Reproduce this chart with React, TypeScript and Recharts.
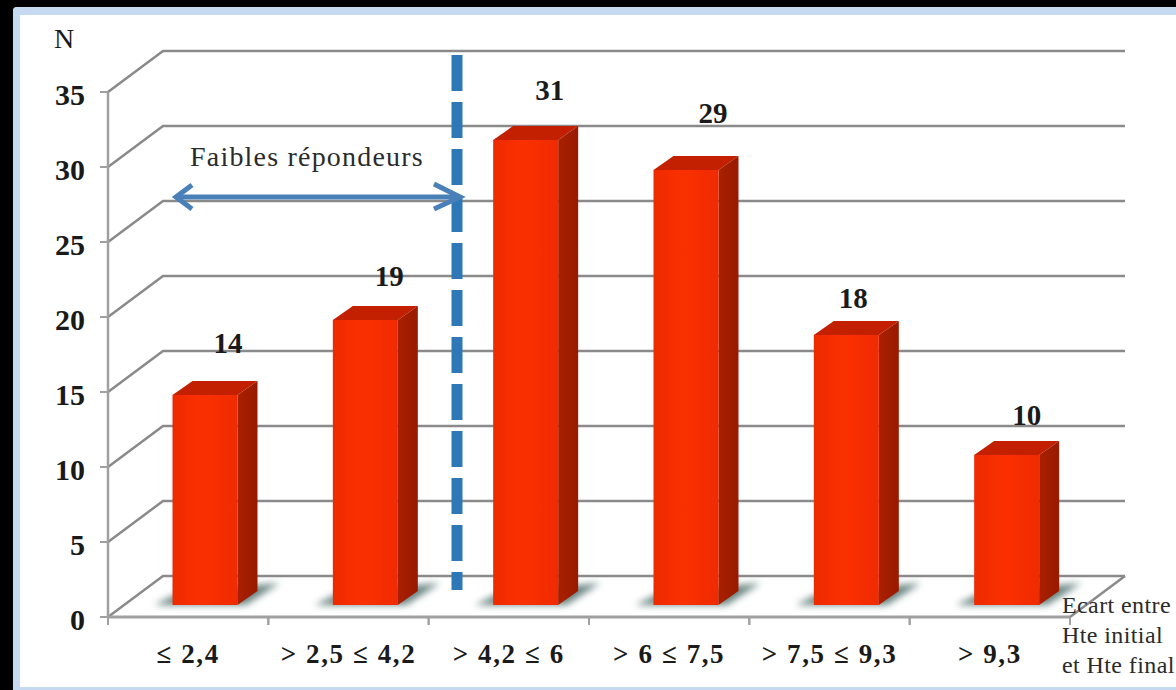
import React from "react";
import { BarChart, Bar, XAxis, YAxis, CartesianGrid, LabelList, Customized } from "recharts";

// Chart values
const categories = ["≤ 2,4", "> 2,5 ≤ 4,2", "> 4,2 ≤ 6", "> 6 ≤ 7,5", "> 7,5 ≤ 9,3", "> 9,3"];
const counts = [14, 19, 31, 29, 18, 10];
const yTicks = [0, 5, 10, 15, 20, 25, 30, 35];
const axisNoteLines = ["Ecart entre", "Hte initial", "et Hte final"];
const annotationText = "Faibles répondeurs";

const rows = categories.map((category, i) => ({ category, count: counts[i] }));

// Nudges that place each count above its bar
const labelNudgeX = [23, 24, 24, 27, 7, 20];
const labelNudgeY = [-38, -30, -36, -43, -23, -26];

// Layout of the faux 3D box
const WIDTH = 1176;
const HEIGHT = 690;
const PLOT_LEFT = 108;
const PLOT_TOP = 92;
const PLOT_BOTTOM = 617;
const PLOT_RIGHT = 1070;
const WALL_DX = 55;
const WALL_DY = -41;
const BAR_SHIFT_X = 16.5;
const BAR_SHIFT_Y = -12;
const SIDE_DX = 20;
const SIDE_DY = -14;
const BAND = (PLOT_RIGHT - PLOT_LEFT) / categories.length;

const SERIF = "'Liberation Serif', 'Times New Roman', serif";
const GRID = "#8a8a8a";
const AXIS = "#a0a0a0";
const INK = "#1a1a1a";

const Bar3D = (props: any) => {
  const { x, y, width, height } = props;
  const left = x + BAR_SHIFT_X;
  const right = left + width;
  const top = y + BAR_SHIFT_Y;
  const base = top + height;
  return (
    <g>
      <polygon
        points={`${left - 18},${base} ${left + 6},${base - 12} ${right + 42},${base - 22} ${right + 8},${base}`}
        fill="#4f6f6c"
        opacity={0.85}
        filter="url(#floorShadow)"
      />
      <polygon
        points={`${left},${top} ${left + SIDE_DX},${top + SIDE_DY} ${right + SIDE_DX},${top + SIDE_DY} ${right},${top}`}
        fill="#c22000"
      />
      <polygon
        points={`${right},${top} ${right + SIDE_DX},${top + SIDE_DY} ${right + SIDE_DX},${base + SIDE_DY} ${right},${base}`}
        fill="url(#barSide)"
      />
      <rect x={left} y={top} width={width} height={height} fill="url(#barFront)" />
    </g>
  );
};

const CountLabel = (props: any) => {
  const { x, y, width, value, index } = props;
  return (
    <text
      x={x + BAR_SHIFT_X + width / 2 + labelNudgeX[index]}
      y={y + BAR_SHIFT_Y + SIDE_DY + labelNudgeY[index] + 10}
      textAnchor="middle"
      fontFamily={SERIF}
      fontWeight="bold"
      fontSize={29}
      fill={INK}
    >
      {value}
    </text>
  );
};

// One shelf of the box: short diagonal on the side wall, long run along the back wall
const ShelfLine = (props: any) => {
  const { x1, y1, x2 } = props;
  const backY = y1 + WALL_DY;
  return (
    <path
      key={y1}
      d={`M${x1},${y1} L${x1 + WALL_DX},${backY} L${x2 + WALL_DX},${backY}`}
      fill="none"
      stroke={GRID}
      strokeWidth={2.5}
    />
  );
};

const CategoryTick = (props: any) => {
  const { x, y, payload } = props;
  return (
    <g>
      <line x1={x - BAND / 2} y1={PLOT_BOTTOM} x2={x - BAND / 2} y2={PLOT_BOTTOM + 8} stroke={AXIS} strokeWidth={2} />
      <line x1={x + BAND / 2} y1={PLOT_BOTTOM} x2={x + BAND / 2} y2={PLOT_BOTTOM + 8} stroke={AXIS} strokeWidth={2} />
      <text
        x={x}
        y={PLOT_BOTTOM + 46}
        textAnchor="middle"
        fontFamily={SERIF}
        fontWeight="bold"
        fontSize={27}
        letterSpacing={1.6}
        fill={INK}
      >
        {payload.value}
      </text>
    </g>
  );
};

const ValueTick = (props: any) => {
  const { y, payload } = props;
  return (
    <g>
      <line x1={PLOT_LEFT - 8} y1={y} x2={PLOT_LEFT} y2={y} stroke={AXIS} strokeWidth={2} />
      <text x={85} y={y + 13} textAnchor="end" fontFamily={SERIF} fontWeight="bold" fontSize={30} fill={INK}>
        {payload.value}
      </text>
    </g>
  );
};

// Threshold line, span arrow and free-standing captions
const Annotations = () => (
  <g>
    <line
      x1={PLOT_RIGHT}
      y1={PLOT_BOTTOM}
      x2={PLOT_RIGHT + WALL_DX}
      y2={PLOT_BOTTOM + WALL_DY}
      stroke={GRID}
      strokeWidth={2.5}
    />
    <text x={54} y={48} fontFamily={SERIF} fontSize={28} fill={INK}>N</text>
    <text x={190} y={166} fontFamily={SERIF} fontSize={28} letterSpacing={1.2} fill="#2b2b2b">{annotationText}</text>
    <line x1={457} y1={55} x2={457} y2={590} stroke="#2f78b8" strokeWidth={11} strokeDasharray="36 11" />
    <g fill="none" stroke="#4a80b8" strokeWidth={5}>
      <line x1={176} y1={197} x2={458} y2={197} />
      <path d="M192,185 L176,197 L192,209" />
      <path d="M434,184 L460,197 L434,209" />
    </g>
    {axisNoteLines.map((line, i) => (
      <text key={line} x={1062} y={613 + i * 30} fontFamily={SERIF} fontSize={24} letterSpacing={0.4} fill="#2b2b2b">{line}</text>
    ))}
  </g>
);

export default function App() {
  return (
    <div style={{ position: "fixed", left: 0, top: 0, width: WIDTH, height: HEIGHT, background: "#000", overflow: "hidden" }}>
      <div
        style={{
          position: "absolute",
          left: 13,
          top: 7,
          right: -10,
          bottom: 0,
          boxSizing: "border-box",
          background: "#fff",
          borderStyle: "solid",
          borderColor: "#c5d9f1",
          borderWidth: "8px 0 3px 7px",
          borderTopLeftRadius: 4,
        }}
      />
      <div style={{ position: "absolute", left: 0, top: 0 }}>
        <BarChart
          width={WIDTH}
          height={HEIGHT}
          data={rows}
          margin={{ top: PLOT_TOP, right: WIDTH - PLOT_RIGHT, bottom: 0, left: 0 }}
          barSize={65}
        >
          <defs>
            <linearGradient id="barFront" x1="0" y1="0" x2="1" y2="0">
              <stop offset="0" stopColor="#ee2a00" />
              <stop offset="0.45" stopColor="#fb3000" />
              <stop offset="1" stopColor="#ef2b00" />
            </linearGradient>
            <linearGradient id="barSide" x1="0" y1="0" x2="1" y2="0">
              <stop offset="0" stopColor="#a92000" />
              <stop offset="1" stopColor="#981a00" />
            </linearGradient>
            <filter id="floorShadow" x="-30%" y="-80%" width="160%" height="260%">
              <feGaussianBlur stdDeviation="3.5" />
            </filter>
          </defs>
          <CartesianGrid vertical={false} horizontal={ShelfLine as any} />
          <XAxis
            dataKey="category"
            height={HEIGHT - PLOT_BOTTOM}
            tick={CategoryTick as any}
            tickLine={false}
            interval={0}
            axisLine={{ stroke: AXIS, strokeWidth: 3 }}
          />
          <YAxis
            width={PLOT_LEFT}
            domain={[0, 35]}
            ticks={yTicks}
            tick={ValueTick as any}
            tickLine={false}
            axisLine={{ stroke: AXIS, strokeWidth: 2.5 }}
          />
          <Bar dataKey="count" isAnimationActive={false} shape={Bar3D as any}>
            <LabelList dataKey="count" content={CountLabel as any} />
          </Bar>
          <Customized component={<Annotations />} />
        </BarChart>
      </div>
    </div>
  );
}
